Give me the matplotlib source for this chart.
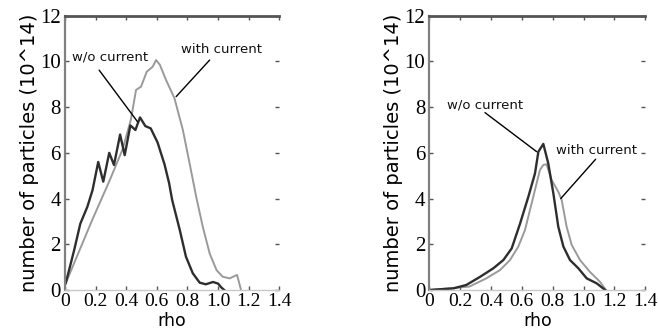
import matplotlib
matplotlib.use("Agg")
import matplotlib.pyplot as plt

# ---- data ----
left_wo_x = [0.005, 0.06, 0.10, 0.146, 0.18, 0.217, 0.25, 0.289, 0.32, 0.36, 0.39, 0.427, 0.46, 0.49,
             0.525, 0.56, 0.605, 0.65, 0.68, 0.70, 0.75, 0.79, 0.835, 0.88, 0.92, 0.967, 1.0, 1.02, 1.04]
left_wo_y = [0.3, 1.75, 2.9, 3.64, 4.37, 5.6, 4.74, 6.0, 5.47, 6.8, 5.9, 7.2, 7.0, 7.55,
             7.17, 7.07, 6.45, 5.5, 4.68, 3.94, 2.62, 1.46, 0.73, 0.32, 0.25, 0.35, 0.28, 0.12, 0.0]
left_w_x = [0.005, 0.18, 0.289, 0.376, 0.43, 0.464, 0.497, 0.534, 0.573, 0.595, 0.62, 0.66, 0.715,
            0.77, 0.814, 0.857, 0.90, 0.945, 0.99, 1.03, 1.076, 1.124, 1.15]
left_w_y = [0.3, 3.1, 4.75, 6.15, 7.44, 8.75, 8.9, 9.55, 9.77, 10.06, 9.85, 9.19, 8.39,
            7.0, 5.54, 4.08, 2.77, 1.6, 0.87, 0.58, 0.51, 0.66, 0.0]

right_wo_x = [0.0, 0.156, 0.24, 0.33, 0.415, 0.48, 0.534, 0.588, 0.642, 0.685, 0.707, 0.739,
              0.771, 0.804, 0.836, 0.869, 0.912, 0.966, 1.02, 1.085, 1.14]
right_wo_y = [0.0, 0.07, 0.22, 0.58, 0.95, 1.31, 1.82, 2.9, 4.08, 5.1, 6.05, 6.39,
              5.54, 4.23, 2.77, 1.9, 1.31, 0.95, 0.51, 0.29, 0.0]
right_w_x = [0.0, 0.26, 0.37, 0.458, 0.523, 0.577, 0.62, 0.674, 0.717, 0.739, 0.76, 0.793,
             0.836, 0.858, 0.89, 0.923, 0.977, 1.04, 1.106, 1.145]
right_w_y = [0.0, 0.15, 0.51, 0.87, 1.31, 1.9, 2.62, 4.08, 5.25, 5.47, 5.5, 4.81,
             4.3, 3.94, 2.77, 1.97, 1.31, 0.8, 0.36, 0.0]

x_ticks = [0, 0.2, 0.4, 0.6, 0.8, 1.0, 1.2, 1.4]
x_ticklabels = ["0", "0.2", "0.4", "0.6", "0.8", "1.0", "1.2", "1.4"]
y_ticks = [0, 2, 4, 6, 8, 10, 12]
y_ticklabels = ["0", "2", "4", "6", "8", "10", "12"]

label_wo = "w/o current"
label_w = "with current"
ylabel = "number of particles (10^14)"
xlabel = "rho"

# annotation layout: (text, text position, line start, line end)
left_ann = [(label_wo, (0.292, 10.19), (0.223, 9.62), (0.474, 7.36)),
            (label_w, (1.024, 10.5), (0.945, 10.06), (0.726, 8.46))]
right_ann = [(label_wo, (0.359, 8.09), (0.361, 7.76), (0.696, 6.05)),
             (label_w, (1.082, 6.12), (1.078, 5.72), (0.852, 4.0))]

fig = plt.figure(figsize=(6.58, 3.28), dpi=100)
ax1 = fig.add_axes([65 / 658, 38 / 328, 214.3 / 658, 274.3 / 328])
ax2 = fig.add_axes([429.3 / 658, 38 / 328, 216 / 658, 274.3 / 328])

dark = "#2e2e2e"
light = "#9a9a9a"

for ax, (wx, wy, lx, ly), anns in [
        (ax1, (left_wo_x, left_wo_y, left_w_x, left_w_y), left_ann),
        (ax2, (right_wo_x, right_wo_y, right_w_x, right_w_y), right_ann)]:
    ax.plot(lx, ly, color=light, lw=1.4)
    ax.plot(wx, wy, color=dark, lw=1.7)
    ax.set_xlim(0, 1.4)
    ax.set_ylim(0, 12)
    ax.set_xticks(x_ticks)
    ax.set_xticklabels(x_ticklabels, family="Liberation Serif", fontsize=14)
    ax.set_yticks(y_ticks)
    ax.set_yticklabels(y_ticklabels, family="Liberation Serif", fontsize=15)
    ax.tick_params(direction="in", length=3, width=1, color="#555555",
                   top=True, right=True)
    ax.tick_params(axis="x", pad=2)
    ax.tick_params(axis="y", pad=3)
    ax.spines["top"].set_color("#555555")
    ax.spines["top"].set_linewidth(2)
    ax.spines["left"].set_color("#808080")
    ax.spines["left"].set_linewidth(1.6)
    ax.spines["bottom"].set_color("#c8c8c8")
    ax.spines["bottom"].set_linewidth(1)
    ax.spines["right"].set_visible(False)
    ax.set_ylabel(ylabel, family="DejaVu Sans", fontsize=14, labelpad=1)
    ax.set_xlabel(xlabel, family="DejaVu Sans", fontsize=12.5, va="top")
    ax.xaxis.set_label_coords(0.5, -21.5 / 274.3)
    for text, tpos, p0, p1 in anns:
        ax.text(tpos[0], tpos[1], text, ha="center", va="center",
                family="DejaVu Sans", fontsize=9.5, color="#111111")
        ax.annotate("", xy=p1, xytext=p0,
                    arrowprops=dict(arrowstyle="-", color="black", lw=1,
                                    shrinkA=0, shrinkB=0))

fig.savefig("out.png", dpi=100)
